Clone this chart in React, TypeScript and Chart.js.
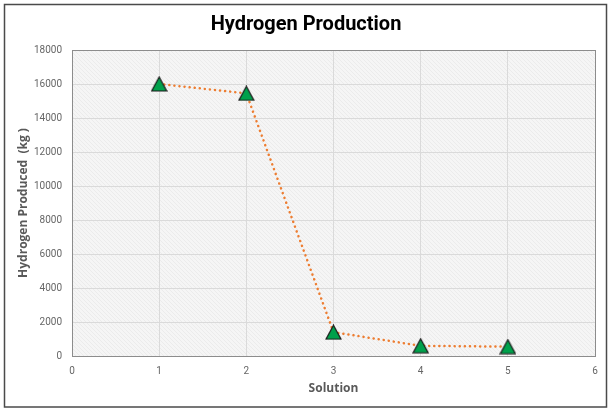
import React, { useEffect, useRef } from "react";
import { Chart, registerables } from "chart.js";

Chart.register(...registerables);

const solutions = [1, 2, 3, 4, 5];
const hydrogenKg = [16000, 15450, 1400, 600, 550];
const xTicks = [0, 1, 2, 3, 4, 5, 6];
const yTicks = [0, 2000, 4000, 6000, 8000, 10000, 12000, 14000, 16000, 18000];

function makeTriangle(): HTMLCanvasElement {
  const c = document.createElement("canvas");
  const w = 17, h = 16;
  c.width = w; c.height = h;
  const g = c.getContext("2d")!;
  g.beginPath();
  g.moveTo(w / 2, 1);
  g.lineTo(w - 1, h - 1);
  g.lineTo(1, h - 1);
  g.closePath();
  g.fillStyle = "#00A14B";
  g.fill();
  g.lineWidth = 1.2;
  g.strokeStyle = "#1a1a1a";
  g.stroke();
  return c;
}

function makeHatch(ctx: CanvasRenderingContext2D): CanvasPattern | string {
  const c = document.createElement("canvas");
  c.width = 4; c.height = 4;
  const g = c.getContext("2d")!;
  g.fillStyle = "#f5f5f5";
  g.fillRect(0, 0, 4, 4);
  g.strokeStyle = "#e8e8e8";
  g.lineWidth = 0.8;
  g.beginPath();
  g.moveTo(0, 0); g.lineTo(4, 4);
  g.moveTo(-2, 2); g.lineTo(2, 6);
  g.moveTo(2, -2); g.lineTo(6, 2);
  g.stroke();
  return ctx.createPattern(c, "repeat") || "#f2f2f2";
}

export default function App() {
  const ref = useRef<HTMLCanvasElement | null>(null);
  useEffect(() => {
    const canvas = ref.current!;
    const tri = makeTriangle();
    const bgPlugin = {
      id: "bgPlugin",
      beforeDraw(chart: any) {
        const { ctx, chartArea: a } = chart;
        ctx.save();
        ctx.fillStyle = "#ffffff";
        ctx.fillRect(0, 0, chart.width, chart.height);
        ctx.strokeStyle = "#4a4a4a";
        ctx.lineWidth = 1.5;
        ctx.strokeRect(4.5, 4.5, 602, 402.5);
        ctx.fillStyle = makeHatch(ctx);
        ctx.fillRect(a.left, a.top, a.right - a.left, a.bottom - a.top);
        ctx.fillStyle = "#000000";
        ctx.font = "bold 20px Roboto";
        ctx.textAlign = "center";
        ctx.textBaseline = "middle";
        ctx.fillText("Hydrogen Production", 306, 25);
        ctx.restore();
      },
      beforeDatasetsDraw(chart: any) {
        const { ctx, chartArea: a } = chart;
        ctx.save();
        ctx.strokeStyle = "#8c8c8c";
        ctx.lineWidth = 1;
        ctx.strokeRect(a.left + 0.5, a.top + 0.5, a.right - a.left, a.bottom - a.top);
        ctx.restore();
      },
    };
    const chart = new Chart(canvas, {
      type: "scatter",
      data: {
        datasets: [
          {
            data: solutions.map((s, i) => ({ x: s, y: hydrogenKg[i] })),
            showLine: true,
            borderColor: "#ED7D31",
            borderWidth: 2.5,
            borderDash: [0.1, 5],
            borderCapStyle: "round",
            pointStyle: tri as any,
            pointRadius: 8,
            pointHoverRadius: 8,
            backgroundColor: "#00A14B",
          } as any,
        ],
      },
      options: {
        animation: false,
        responsive: false,
        events: [],
        layout: { padding: { top: 50, right: 20, left: 0, bottom: 0 } },
        plugins: { legend: { display: false }, tooltip: { enabled: false }, title: { display: false } },
        scales: {
          x: {
            type: "linear",
            min: 0,
            max: 6,
            afterFit(scale: any) { scale.height = 58; },
            afterBuildTicks(scale: any) { scale.ticks = xTicks.map((v) => ({ value: v })); },
            grid: { color: "#dadada", drawTicks: false },
            border: { display: false },
            ticks: { padding: 9, color: "#666666", font: { family: "Roboto", size: 10 }, callback: (v: any) => String(v) },
            title: {
              display: true,
              text: "Solution",
              color: "#595959",
              font: { family: "Open Sans", size: 12, weight: "bold" },
              padding: { top: 0, bottom: 18 },
            },
          },
          y: {
            type: "linear",
            min: 0,
            max: 18000,
            afterFit(scale: any) { scale.width = 72; },
            afterBuildTicks(scale: any) { scale.ticks = yTicks.map((v) => ({ value: v })); },
            grid: { color: "#dadada", drawTicks: false },
            border: { display: false },
            ticks: { padding: 10, color: "#666666", font: { family: "Roboto", size: 10 }, callback: (v: any) => String(v) },
            title: {
              display: true,
              text: "Hydrogen Produced  (kg )",
              color: "#595959",
              font: { family: "Open Sans", size: 12, weight: "bold" },
              padding: { top: 16, bottom: 0 },
            },
          },
        },
      },
      plugins: [bgPlugin],
    });
    return () => chart.destroy();
  }, []);
  return (
    <div style={{ position: "absolute", left: 0, top: 0, width: 615, height: 414 }}>
      <canvas ref={ref} width={615} height={414} style={{ width: 615, height: 414, display: "block" }} />
    </div>
  );
}
